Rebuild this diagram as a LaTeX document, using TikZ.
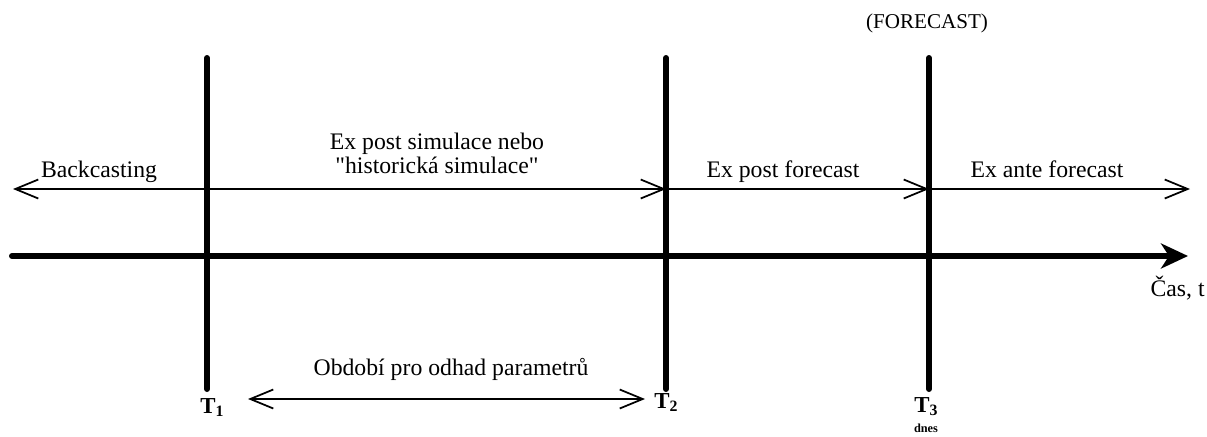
\documentclass[tikz,border=0pt]{standalone}
\usepackage{fontspec}
\setmainfont{Liberation Serif}
\usetikzlibrary{arrows.meta}

\begin{document}
\begin{tikzpicture}[x=0.2mm,y=-0.2mm,font=\fontsize{13.5}{13.5}\selectfont,
        barb/.tip={Straight Barb[length=4.6mm,width=3.8mm]},
        axis/.style={line width=1.2mm,line cap=round,-{Stealth[length=5.4mm,width=5mm,inset=1.6mm]}},
        bar/.style={line width=1.2mm,line cap=round},
        span/.style={line width=0.35mm,-barb},
        both span/.style={line width=0.35mm,barb-barb},
        lbl/.style={inner sep=0pt,anchor=base},
        tlbl/.style={inner sep=0pt,anchor=base,font=\fontsize{13}{13}\selectfont\bfseries}]

      \useasboundingbox (0,0) rectangle (1207,436);

      \coordinate (axisL) at (12,256);
      \coordinate (axisR) at (1188,256);
      \coordinate (rowL) at (13,189);
      \coordinate (b1) at (207,189);
      \coordinate (b2) at (666,189);
      \coordinate (b3) at (929,189);
      \coordinate (rowR) at (1190,189);
      \coordinate (pL) at (248,399);
      \coordinate (pR) at (645,399);

      % spans above the axis
      \draw[span] (b1) -- (rowL);
      \draw[span] (b1) -- (b2);
      \draw[span] (b2) -- (b3);
      \draw[span] (b3) -- (rowR);
      \draw[both span] (pL) -- (pR);

      % time axis
      \draw[axis] (axisL) -- (axisR);

      \foreach \i/\x in {1/207,2/666,3/929} {
        \coordinate (top\i) at (\x,58);
        \coordinate (bot\i) at (\x,389);
        \draw[bar] (top\i) -- (bot\i);
      }

      \node[lbl] (backcast) at (99,177) {Backcasting};
      \node[inner sep=0pt,anchor=south,align=center] (exsim) at (437,174)
        {Ex post simulace nebo\\\textquotedbl historická simulace\textquotedbl};
      \node[lbl] (expost) at (783,177) {Ex post forecast};
      \node[lbl] (exante) at (1047,177) {Ex ante forecast};
      \node[lbl,font=\fontsize{12}{12}\selectfont] (forecast) at (927,28) {(FORECAST)};
      \node[lbl] (odhad) at (451,375) {Období pro odhad parametrů};
      \node[lbl,anchor=base east] (cas) at (1205,296) {Čas, t};

      \node[tlbl] (t1) at (212,413) {T\raisebox{-0.35ex}{\fontsize{9}{9}\selectfont 1}};
      \node[tlbl] (t2) at (666,408) {T\raisebox{-0.35ex}{\fontsize{9}{9}\selectfont 2}};
      \node[tlbl] (t3) at (926,412) {T\raisebox{-0.35ex}{\fontsize{9}{9}\selectfont 3}};
      \node[tlbl,font=\fontsize{7}{7}\selectfont\bfseries] (dnes) at (926,432) {dnes};
\end{tikzpicture}
\end{document}
